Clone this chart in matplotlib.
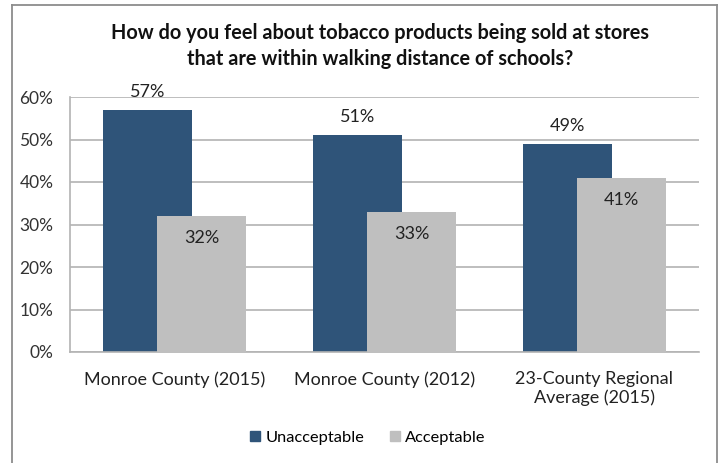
import matplotlib.pyplot as plt
from matplotlib.lines import Line2D
import numpy as np

plt.rcParams['font.family'] = ['Lato', 'DejaVu Sans']

# survey results, percent of respondents
categories = ['Monroe County (2015)', 'Monroe County (2012)',
              '23-County Regional\nAverage (2015)']
unacceptable = [57, 51, 49]
acceptable = [32, 33, 41]
yticks = [0, 10, 20, 30, 40, 50, 60]

dark = '#2F5479'
light = '#BFBFBF'
grid_c = '#B3B3B3'

W, H = 721, 463
fig = plt.figure(figsize=(W / 100, H / 100), dpi=100)
ax = fig.add_axes([70 / W, 1 - 352 / H, 629 / W, 255 / H])

x = np.arange(len(categories))
bw = 0.425
off = 0.129
ax.bar(x - off, unacceptable, bw, color=dark, zorder=2)
ax.bar(x + off, acceptable, bw, color=light, zorder=3)

for xi, v in zip(x, unacceptable):
    ax.annotate('%d%%' % v, (xi - off, v), xytext=(0, 13), textcoords='offset points',
                ha='center', va='center', fontsize=13, color='#222222')
for xi, v in zip(x, acceptable):
    ax.annotate('%d%%' % v, (xi + off, v), xytext=(0, -16), textcoords='offset points',
                ha='center', va='center', fontsize=13, color='#222222', zorder=4)

ax.set_xlim(-0.5, 2.5)
ax.set_ylim(0, 60)
ax.set_yticks(yticks)
ax.set_yticklabels(['%d%%' % t for t in yticks], fontsize=12.5, color='#333333')
ax.set_xticks(x)
ax.set_xticklabels(categories, fontsize=13, color='#222222', linespacing=1.15)
ax.tick_params(axis='y', length=0, pad=12)
ax.tick_params(axis='x', length=0, pad=14)
ax.yaxis.grid(True, color=grid_c, linewidth=1.2, zorder=0)
ax.set_axisbelow(True)
for s in ['top', 'right']:
    ax.spines[s].set_visible(False)
for s in ['left', 'bottom']:
    ax.spines[s].set_color(grid_c)
    ax.spines[s].set_linewidth(1.2)

fig.text(380 / W, 1 - 46 / H,
         'How do you feel about tobacco products being sold at stores\n'
         'that are within walking distance of schools?',
         ha='center', va='center', fontsize=14.3, fontweight='bold',
         linespacing=1.4, color='#111111')

handles = [plt.Rectangle((0, 0), 1, 1, color=dark),
           plt.Rectangle((0, 0), 1, 1, color=light)]
fig.legend(handles, ['Unacceptable', 'Acceptable'], loc='center',
           bbox_to_anchor=(368 / W, 1 - 438 / H), ncol=2, frameon=False,
           fontsize=11.8, handlelength=0.6, handleheight=0.6,
           handletextpad=0.3, columnspacing=1.6)

# outer chart border
bc = '#8C8C8C'
fig.add_artist(Line2D([12 / W, 12 / W], [0, 1 - 5 / H], color=bc, lw=1.3,
                      transform=fig.transFigure))
fig.add_artist(Line2D([12 / W, 717 / W], [1 - 5 / H, 1 - 5 / H], color=bc, lw=1.3,
                      transform=fig.transFigure))
fig.add_artist(Line2D([717 / W, 717 / W], [0, 1 - 5 / H], color=bc, lw=1.3,
                      transform=fig.transFigure))

fig.savefig('out.png', dpi=100)
